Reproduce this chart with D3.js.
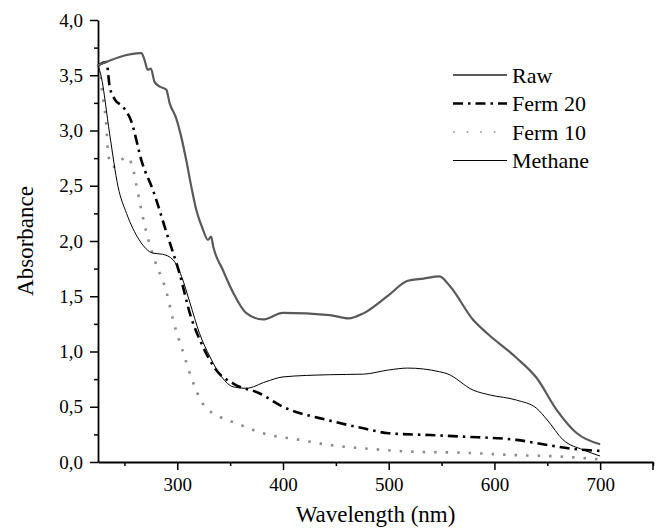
<!DOCTYPE html>
<html>
<head>
<meta charset="utf-8">
<script src="https://cdn.jsdelivr.net/npm/d3@7"></script>
<style>
body { margin: 0; background: #fff; }
</style>
</head>
<body>
<svg id="chart"></svg>
<script>
var width = 658;
var height = 532;
var serif = "Liberation Serif";

// series
var rawWl = [225, 266, 269, 272, 275, 278.5, 283, 289.6, 292.7, 299, 303.8, 308.5, 313.3, 318, 324, 329, 332, 334, 343, 353, 365, 381, 400, 444, 462, 476, 500, 518, 533, 548, 558, 580, 593, 620, 640, 659, 678, 700];
var rawAbs = [3.59, 3.70, 3.64, 3.55, 3.56, 3.44, 3.40, 3.37, 3.25, 3.11, 2.94, 2.73, 2.49, 2.28, 2.11, 2.01, 2.04, 1.95, 1.74, 1.53, 1.35, 1.29, 1.35, 1.33, 1.30, 1.345, 1.51, 1.64, 1.66, 1.68, 1.59, 1.285, 1.165, 0.95, 0.76, 0.47, 0.26, 0.16];

var f20Wl = [225, 233, 236, 241, 248.5, 256, 267, 277, 290, 302, 313, 323, 337, 353, 378, 400, 444, 476, 500, 539, 570, 621, 650, 678, 700];
var f20Abs = [3.59, 3.62, 3.40, 3.28, 3.215, 3.095, 2.70, 2.46, 2.07, 1.71, 1.31, 1.07, 0.83, 0.71, 0.62, 0.50, 0.375, 0.305, 0.26, 0.244, 0.23, 0.20, 0.154, 0.115, 0.10];

var f10Wl = [225, 230, 233, 234.5, 239, 252, 258, 261, 266, 271, 278.5, 290, 296, 305, 313, 324, 340, 356, 381, 416, 444, 476, 523, 570, 618, 665, 700];
var f10Abs = [3.59, 3.28, 3.03, 2.79, 2.67, 2.76, 2.66, 2.52, 2.28, 2.07, 1.83, 1.53, 1.285, 1.01, 0.77, 0.53, 0.41, 0.35, 0.26, 0.2, 0.154, 0.124, 0.093, 0.084, 0.063, 0.048, 0.024];

var methWl = [225, 228, 236, 244, 252, 264, 277, 286, 296, 304, 312, 321, 331, 342, 353, 365, 384, 400, 444, 476, 500, 518, 548, 555, 580, 596, 621, 640, 650, 665, 684, 700];
var methAbs = [3.59, 3.49, 2.97, 2.49, 2.25, 2.01, 1.89, 1.88, 1.83, 1.68, 1.44, 1.165, 0.95, 0.77, 0.68, 0.667, 0.727, 0.77, 0.79, 0.795, 0.833, 0.85, 0.817, 0.80, 0.65, 0.606, 0.56, 0.485, 0.38, 0.2, 0.11, 0.054];

var seriesNames = ["Raw", "Ferm 20", "Ferm 10", "Methane"];
var xMajor = [300, 400, 500, 600, 700];
var yMajor = [0, 0.5, 1, 1.5, 2, 2.5, 3, 3.5, 4];

var styles = {
    "Raw":     {stroke: "#595959", width: 2.2, dash: null},
    "Ferm 20": {stroke: "#000", width: 2.6, dash: "10,5,2.5,5"},
    "Ferm 10": {stroke: "#8c8c8c", width: 2.6, dash: "2.5,9"},
    "Methane": {stroke: "#000", width: 1, dash: null}
};

var series = [
    {name: "Raw", x: rawWl, y: rawAbs},
    {name: "Ferm 20", x: f20Wl, y: f20Abs},
    {name: "Ferm 10", x: f10Wl, y: f10Abs},
    {name: "Methane", x: methWl, y: methAbs}
];

var margin = {left: 98, right: 5, top: 20, bottom: 70};

var svg = d3.select("#chart").attr("width", width).attr("height", height);

var x = d3.scaleLinear().domain([225, 750]).range([margin.left, width - margin.right]);
var y = d3.scaleLinear().domain([0, 4]).range([height - margin.bottom, margin.top]);

var comma = function(d) { return d3.format(".1f")(d).replace(".", ","); };

// minor ticks first so major ones draw on top
var xMinor = d3.range(250, 751, 50).filter(function(d) { return xMajor.indexOf(d) < 0; });
var yMinor = d3.range(0.25, 4, 0.5);

svg.append("g")
    .attr("transform", "translate(0," + y(0) + ")")
    .call(d3.axisBottom(x).tickValues(xMinor).tickSize(4).tickFormat(""))
    .call(function(g) { g.select(".domain").remove(); g.selectAll("line").attr("stroke-width", 1.5); });
svg.append("g")
    .attr("transform", "translate(" + x(225) + ",0)")
    .call(d3.axisLeft(y).tickValues(yMinor).tickSize(4).tickFormat(""))
    .call(function(g) { g.select(".domain").remove(); g.selectAll("line").attr("stroke-width", 1.5); });

var xAxis = svg.append("g")
    .attr("transform", "translate(0," + y(0) + ")")
    .call(d3.axisBottom(x).tickValues(xMajor).tickSize(8).tickSizeOuter(0).tickPadding(8));
var yAxis = svg.append("g")
    .attr("transform", "translate(" + x(225) + ",0)")
    .call(d3.axisLeft(y).tickValues(yMajor).tickSize(8).tickSizeOuter(0).tickPadding(7).tickFormat(comma));

[xAxis, yAxis].forEach(function(g) {
    g.attr("font-family", serif).attr("font-size", 19);
    g.select(".domain").attr("stroke-width", 1.8);
    g.selectAll("line").attr("stroke-width", 1.5);
    g.selectAll("text").attr("fill", "#000");
});

// end tick at 750
svg.append("line")
    .attr("x1", x(750)).attr("x2", x(750))
    .attr("y1", y(0)).attr("y2", y(0) + 8)
    .attr("stroke", "#000").attr("stroke-width", 1.5);

var line = d3.line()
    .x(function(d) { return x(d[0]); })
    .y(function(d) { return y(d[1]); })
    .curve(d3.curveMonotoneX);

var drawOrder = ["Ferm 10", "Methane", "Ferm 20", "Raw"];
drawOrder.forEach(function(name) {
    var s = series.filter(function(d) { return d.name == name; })[0];
    var pts = s.x.map(function(v, i) { return [v, s.y[i]]; });
    var st = styles[name];
    svg.append("path")
        .datum(pts)
        .attr("d", line)
        .attr("fill", "none")
        .attr("stroke", st.stroke)
        .attr("stroke-width", st.width)
        .attr("stroke-dasharray", st.dash)
        .attr("stroke-linejoin", "round");
});

// legend
var legend = svg.append("g").attr("transform", "translate(453,75)");
seriesNames.forEach(function(name, i) {
    var st = styles[name];
    var row = legend.append("g").attr("transform", "translate(0," + (i * 28.5) + ")");
    row.append("line")
        .attr("x1", 0).attr("x2", 54)
        .attr("stroke", st.stroke)
        .attr("stroke-width", name == "Ferm 10" ? 1.6 : st.width)
        .attr("stroke-dasharray", name == "Ferm 10" ? "1.6,12" : st.dash);
    row.append("text")
        .attr("x", 59).attr("dy", "0.35em")
        .attr("font-family", serif)
        .attr("font-size", 22)
        .text(name);
});

// axis titles
svg.append("text")
    .attr("x", (x(225) + x(750)) / 2)
    .attr("y", 522)
    .attr("text-anchor", "middle")
    .attr("font-family", serif)
    .attr("font-size", 23)
    .text("Wavelength (nm)");

svg.append("text")
    .attr("transform", "translate(33," + ((y(0) + y(4)) / 2) + ") rotate(-90)")
    .attr("text-anchor", "middle")
    .attr("font-family", serif)
    .attr("font-size", 23)
    .text("Absorbance");
</script>
</body>
</html>
